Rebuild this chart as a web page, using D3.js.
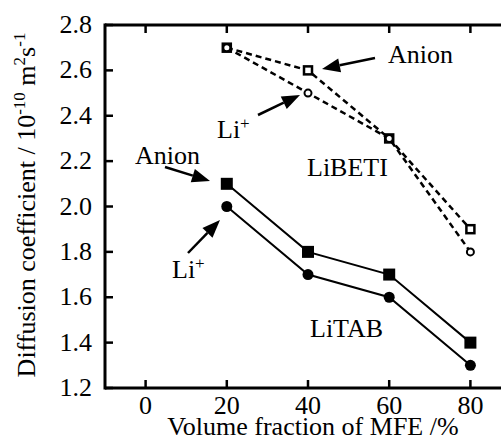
<!DOCTYPE html>
<html>
<head>
<meta charset="utf-8">
<script src="https://cdn.jsdelivr.net/npm/d3@7"></script>
<style>
body { margin: 0; background: #fff; }
</style>
</head>
<body>
<svg width="501" height="440" font-family="'Liberation Serif', 'DejaVu Serif', serif"></svg>
<script>
const svg = d3.select('svg');
const width = +svg.attr('width');
const height = +svg.attr('height');

// data
const mfe = [20, 40, 60, 80];
const betiAnion = [2.7, 2.6, 2.3, 1.9];
const betiLi = [2.7, 2.5, 2.3, 1.8];
const tabAnion = [2.1, 1.8, 1.7, 1.4];
const tabLi = [2.0, 1.7, 1.6, 1.3];
const xTicks = [0, 20, 40, 60, 80];
const yTicks = [1.2, 1.4, 1.6, 1.8, 2.0, 2.2, 2.4, 2.6, 2.8];

const pLeft = 105, pTop = 25, pBottom = 388;
const fs = 26, sfs = 17;

const x = d3.scaleLinear().domain([-10, 90]).range([pLeft, 511]);
const y = d3.scaleLinear().domain([1.2, 2.8]).range([pBottom, pTop]);

// axes
const axisW = 3;
svg.append('line').attr('x1', pLeft).attr('x2', pLeft).attr('y1', pTop - 1.5).attr('y2', pBottom + 1.5)
  .attr('stroke', '#000').attr('stroke-width', axisW);
svg.append('line').attr('x1', pLeft).attr('x2', width).attr('y1', pTop).attr('y2', pTop)
  .attr('stroke', '#000').attr('stroke-width', axisW);
svg.append('line').attr('x1', pLeft).attr('x2', width).attr('y1', pBottom).attr('y2', pBottom)
  .attr('stroke', '#000').attr('stroke-width', axisW);

const tl = 8;
svg.selectAll('.ytick').data(yTicks).enter().append('line')
  .attr('x1', pLeft).attr('x2', pLeft + tl)
  .attr('y1', d => y(d)).attr('y2', d => y(d))
  .attr('stroke', '#000').attr('stroke-width', 2.5);
svg.selectAll('.ylab').data(yTicks).enter().append('text')
  .attr('x', 92).attr('y', d => y(d) + 8)
  .attr('text-anchor', 'end').attr('font-size', fs)
  .text(d => d.toFixed(1));

svg.selectAll('.xtickb').data(xTicks).enter().append('line')
  .attr('x1', d => x(d)).attr('x2', d => x(d))
  .attr('y1', pBottom).attr('y2', pBottom - tl)
  .attr('stroke', '#000').attr('stroke-width', 2.5);
svg.selectAll('.xtickt').data(xTicks).enter().append('line')
  .attr('x1', d => x(d)).attr('x2', d => x(d))
  .attr('y1', pTop).attr('y2', pTop + tl)
  .attr('stroke', '#000').attr('stroke-width', 2.5);
svg.selectAll('.xlab').data(xTicks).enter().append('text')
  .attr('x', d => x(d)).attr('y', 414)
  .attr('text-anchor', 'middle').attr('font-size', fs)
  .text(d => d);

svg.append('text').attr('x', 313).attr('y', 435).attr('text-anchor', 'middle')
  .attr('font-size', fs).text('Volume fraction of MFE /%');

const yl = svg.append('text').attr('transform', 'translate(35,205) rotate(-90)')
  .attr('text-anchor', 'middle').attr('font-size', fs);
yl.append('tspan').text('Diffusion coefficient / 10');
yl.append('tspan').attr('dy', -10).attr('font-size', sfs).text('-10');
yl.append('tspan').attr('dy', 10).text(' m');
yl.append('tspan').attr('dy', -10).attr('font-size', sfs).text('2');
yl.append('tspan').attr('dy', 10).text('s');
yl.append('tspan').attr('dy', -10).attr('font-size', sfs).text('-1');

// series
const line = d3.line().x((d, i) => x(mfe[i])).y(d => y(d));
const series = [
  { v: betiAnion, dash: '6,4', w: 2.5, shape: 'square', fill: '#fff' },
  { v: betiLi, dash: '6,4', w: 2.5, shape: 'circle', fill: '#fff' },
  { v: tabAnion, dash: null, w: 2, shape: 'square', fill: '#000' },
  { v: tabLi, dash: null, w: 2, shape: 'circle', fill: '#000' }
];
series.forEach(s => {
  svg.append('path').datum(s.v).attr('d', line)
    .attr('fill', 'none').attr('stroke', '#000').attr('stroke-width', s.w)
    .attr('stroke-dasharray', s.dash);
});
series.forEach(s => {
  const open = s.fill === '#fff';
  const g = svg.append('g');
  if (s.shape === 'square') {
    const sz = open ? 8 : 12;
    g.selectAll('rect').data(s.v).enter().append('rect')
      .attr('x', (d, i) => x(mfe[i]) - sz / 2).attr('y', d => y(d) - sz / 2)
      .attr('width', sz).attr('height', sz)
      .attr('fill', s.fill).attr('stroke', '#000').attr('stroke-width', open ? 2.5 : 0);
  } else {
    g.selectAll('circle').data(s.v).enter().append('circle')
      .attr('cx', (d, i) => x(mfe[i])).attr('cy', d => y(d))
      .attr('r', open ? 3.5 : 5.5)
      .attr('fill', s.fill).attr('stroke', '#000').attr('stroke-width', open ? 2 : 0);
  }
});

// annotations
function arrow(x1, y1, x2, y2) {
  const a = Math.atan2(y2 - y1, x2 - x1);
  const L = 18, W = 7;
  const bx = x2 - L * Math.cos(a), by = y2 - L * Math.sin(a);
  svg.append('line').attr('x1', x1).attr('y1', y1).attr('x2', bx).attr('y2', by)
    .attr('stroke', '#000').attr('stroke-width', 2.5);
  svg.append('path')
    .attr('d', `M${x2},${y2}L${bx - W * Math.sin(a)},${by + W * Math.cos(a)}L${bx + W * Math.sin(a)},${by - W * Math.cos(a)}Z`)
    .attr('fill', '#000');
}
function label(tx, ty, main, sup) {
  const t = svg.append('text').attr('x', tx).attr('y', ty).attr('font-size', fs);
  t.append('tspan').text(main);
  if (sup) t.append('tspan').attr('dy', -9).attr('font-size', sfs).text(sup);
}

label(388, 63, 'Anion');
arrow(375, 58, 322, 69);
label(217, 138, 'Li', '+');
arrow(258, 115, 300, 95);
label(307, 176, 'LiBETI');
label(135, 164, 'Anion');
arrow(165, 167, 210, 181);
label(172, 278, 'Li', '+');
arrow(188, 253, 220, 220);
label(310, 337, 'LiTAB');
</script>
</body>
</html>
